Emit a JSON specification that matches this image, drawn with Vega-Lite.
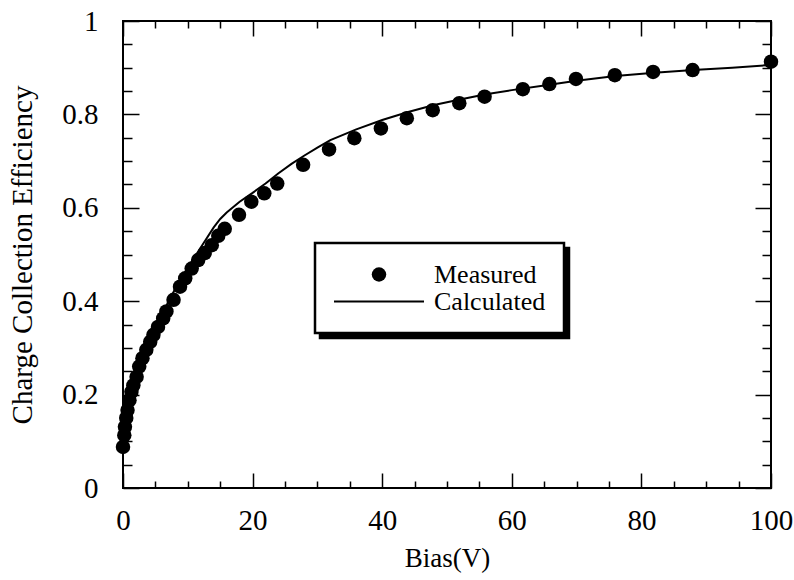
{
  "$schema": "https://vega.github.io/schema/vega-lite/v6.json",
  "width": 648,
  "height": 467,
  "autosize": {"type": "none"},
  "padding": {"left": 123, "top": 21, "right": 23, "bottom": 92},
  "background": "white",
  "config": {
    "view": {"stroke": "black", "strokeWidth": 2},
    "font": "Liberation Serif",
    "legend": {"strokeWidth": 2.5},
    "axis": {
      "grid": false,
      "domain": false,
      "ticks": true,
      "tickColor": "black",
      "tickWidth": 1.5,
      "labelFont": "Liberation Serif",
      "labelFontSize": 29,
      "labelColor": "black",
      "titleFont": "Liberation Serif",
      "titleFontSize": 27,
      "titleFontWeight": "normal",
      "titleColor": "black",
      "labelOverlap": false,
      "labelFlush": false
    }
  },
  "resolve": {"axis": {"x": "independent", "y": "independent"}},
  "datasets": {
    "measured": [
      {"bias": 0.0, "cce": 0.088, "series": "Measured"},
      {"bias": 0.2, "cce": 0.113, "series": "Measured"},
      {"bias": 0.3, "cce": 0.131, "series": "Measured"},
      {"bias": 0.5, "cce": 0.150, "series": "Measured"},
      {"bias": 0.7, "cce": 0.167, "series": "Measured"},
      {"bias": 1.0, "cce": 0.188, "series": "Measured"},
      {"bias": 1.3, "cce": 0.206, "series": "Measured"},
      {"bias": 1.6, "cce": 0.220, "series": "Measured"},
      {"bias": 2.1, "cce": 0.238, "series": "Measured"},
      {"bias": 2.5, "cce": 0.260, "series": "Measured"},
      {"bias": 3.0, "cce": 0.278, "series": "Measured"},
      {"bias": 3.6, "cce": 0.296, "series": "Measured"},
      {"bias": 4.2, "cce": 0.313, "series": "Measured"},
      {"bias": 4.7, "cce": 0.328, "series": "Measured"},
      {"bias": 5.4, "cce": 0.345, "series": "Measured"},
      {"bias": 6.2, "cce": 0.363, "series": "Measured"},
      {"bias": 6.7, "cce": 0.378, "series": "Measured"},
      {"bias": 7.8, "cce": 0.403, "series": "Measured"},
      {"bias": 8.8, "cce": 0.431, "series": "Measured"},
      {"bias": 9.6, "cce": 0.449, "series": "Measured"},
      {"bias": 10.6, "cce": 0.470, "series": "Measured"},
      {"bias": 11.6, "cce": 0.488, "series": "Measured"},
      {"bias": 12.6, "cce": 0.503, "series": "Measured"},
      {"bias": 13.7, "cce": 0.520, "series": "Measured"},
      {"bias": 14.7, "cce": 0.540, "series": "Measured"},
      {"bias": 15.7, "cce": 0.555, "series": "Measured"},
      {"bias": 17.9, "cce": 0.585, "series": "Measured"},
      {"bias": 19.8, "cce": 0.613, "series": "Measured"},
      {"bias": 21.8, "cce": 0.631, "series": "Measured"},
      {"bias": 23.8, "cce": 0.652, "series": "Measured"},
      {"bias": 27.8, "cce": 0.692, "series": "Measured"},
      {"bias": 31.8, "cce": 0.725, "series": "Measured"},
      {"bias": 35.7, "cce": 0.749, "series": "Measured"},
      {"bias": 39.8, "cce": 0.770, "series": "Measured"},
      {"bias": 43.8, "cce": 0.792, "series": "Measured"},
      {"bias": 47.8, "cce": 0.809, "series": "Measured"},
      {"bias": 51.9, "cce": 0.824, "series": "Measured"},
      {"bias": 55.8, "cce": 0.838, "series": "Measured"},
      {"bias": 61.7, "cce": 0.854, "series": "Measured"},
      {"bias": 65.8, "cce": 0.865, "series": "Measured"},
      {"bias": 69.9, "cce": 0.876, "series": "Measured"},
      {"bias": 75.9, "cce": 0.884, "series": "Measured"},
      {"bias": 81.8, "cce": 0.891, "series": "Measured"},
      {"bias": 87.9, "cce": 0.895, "series": "Measured"},
      {"bias": 100.0, "cce": 0.913, "series": "Measured"}
    ],
    "calculated": [
      {"bias": 0, "cce": 0.09, "model": "Calculated"},
      {"bias": 0.5, "cce": 0.15, "model": "Calculated"},
      {"bias": 1, "cce": 0.19, "model": "Calculated"},
      {"bias": 2, "cce": 0.24, "model": "Calculated"},
      {"bias": 3, "cce": 0.28, "model": "Calculated"},
      {"bias": 4, "cce": 0.315, "model": "Calculated"},
      {"bias": 5, "cce": 0.345, "model": "Calculated"},
      {"bias": 6, "cce": 0.372, "model": "Calculated"},
      {"bias": 8, "cce": 0.425, "model": "Calculated"},
      {"bias": 10, "cce": 0.472, "model": "Calculated"},
      {"bias": 12, "cce": 0.515, "model": "Calculated"},
      {"bias": 14, "cce": 0.558, "model": "Calculated"},
      {"bias": 15, "cce": 0.576, "model": "Calculated"},
      {"bias": 16, "cce": 0.59, "model": "Calculated"},
      {"bias": 18, "cce": 0.613, "model": "Calculated"},
      {"bias": 20, "cce": 0.632, "model": "Calculated"},
      {"bias": 22, "cce": 0.652, "model": "Calculated"},
      {"bias": 24, "cce": 0.674, "model": "Calculated"},
      {"bias": 26, "cce": 0.694, "model": "Calculated"},
      {"bias": 28, "cce": 0.712, "model": "Calculated"},
      {"bias": 30, "cce": 0.729, "model": "Calculated"},
      {"bias": 32, "cce": 0.745, "model": "Calculated"},
      {"bias": 36, "cce": 0.768, "model": "Calculated"},
      {"bias": 40, "cce": 0.788, "model": "Calculated"},
      {"bias": 44, "cce": 0.805, "model": "Calculated"},
      {"bias": 48, "cce": 0.82, "model": "Calculated"},
      {"bias": 52, "cce": 0.832, "model": "Calculated"},
      {"bias": 56, "cce": 0.843, "model": "Calculated"},
      {"bias": 60, "cce": 0.852, "model": "Calculated"},
      {"bias": 65, "cce": 0.862, "model": "Calculated"},
      {"bias": 70, "cce": 0.872, "model": "Calculated"},
      {"bias": 76, "cce": 0.882, "model": "Calculated"},
      {"bias": 82, "cce": 0.889, "model": "Calculated"},
      {"bias": 88, "cce": 0.895, "model": "Calculated"},
      {"bias": 94, "cce": 0.9, "model": "Calculated"},
      {"bias": 100, "cce": 0.906, "model": "Calculated"}
    ]
  },
  "layer": [
    {
      "data": {"name": "calculated"},
      "mark": {"type": "line", "color": "black", "strokeWidth": 2, "clip": false},
      "encoding": {
        "x": {
          "field": "bias", "type": "quantitative",
          "scale": {"domain": [0, 100], "nice": false, "zero": false},
          "axis": {
            "orient": "bottom",
            "title": "Bias(V)",
            "titlePadding": 10,
            "values": [0, 20, 40, 60, 80, 100],
            "tickSize": -15,
            "labelPadding": 33
          }
        },
        "y": {
          "field": "cce", "type": "quantitative",
          "scale": {"domain": [0, 1], "nice": false},
          "axis": {
            "orient": "left",
            "title": "Charge Collection Efficiency",
            "titleFontSize": 29,
            "titlePadding": 24,
            "values": [0, 0.2, 0.4, 0.6, 0.8, 1],
            "labelExpr": "'' + round(datum.value*10)/10",
            "tickSize": -16,
            "labelPadding": 41
          }
        },
        "opacity": {
          "field": "model", "type": "nominal",
          "scale": {"domain": ["Calculated", "Measured"], "range": [1, 1]},
          "legend": {
            "title": null,
            "orient": "none",
            "legendX": 197,
            "legendY": 227,
            "padding": 18,
            "rowPadding": 0,
            "clipHeight": 27,
            "symbolType": "stroke",
            "symbolSize": 8100,
            "symbolStrokeWidth": 2,
            "symbolOpacity": 0,
            "labelFont": "Liberation Serif",
            "labelFontSize": 26,
            "labelColor": "transparent",
            "labelOffset": 9,
            "strokeColor": "black",
            "fillColor": "black",
            "cornerRadius": 0
          }
        }
      }
    },
    {
      "data": {"name": "measured"},
      "mark": {"type": "point", "filled": true, "color": "black", "opacity": 1, "clip": false},
      "encoding": {
        "x": {
          "field": "bias", "type": "quantitative",
          "axis": {
            "orient": "top",
            "title": null,
            "labels": false,
            "values": [0, 20, 40, 60, 80, 100],
            "tickSize": -15
          }
        },
        "y": {
          "field": "cce", "type": "quantitative",
          "axis": {
            "orient": "right",
            "title": null,
            "labels": false,
            "values": [0, 0.2, 0.4, 0.6, 0.8, 1],
            "tickSize": -16
          }
        },
        "shape": {
          "field": "series", "type": "nominal",
          "scale": {"domain": ["Measured", "Calculated"], "range": ["circle", "M-1,-0.024L1,-0.024L1,0.024L-1,0.024Z"]},
          "legend": {
            "title": null,
            "orient": "none",
            "legendX": 192,
            "legendY": 222,
            "padding": 18,
            "rowPadding": 0,
            "clipHeight": 27,
            "symbolStrokeWidth": 2,
            "labelFont": "Liberation Serif",
            "labelFontSize": 26,
            "labelColor": "black",
            "labelOffset": 9,
            "strokeColor": "black",
            "fillColor": "white",
            "cornerRadius": 0,
            "encode": {
              "symbols": {
                "fill": {"value": "black"},
                "opacity": {"value": 1}
              }
            }
          }
        },
        "size": {
          "field": "series", "type": "nominal",
          "scale": {"domain": ["Measured", "Calculated"], "range": [210, 8100]},
          "legend": {
            "title": null,
            "orient": "none",
            "legendX": 192,
            "legendY": 222,
            "padding": 18,
            "rowPadding": 0,
            "clipHeight": 27,
            "symbolStrokeWidth": 2,
            "labelFont": "Liberation Serif",
            "labelFontSize": 26,
            "labelColor": "black",
            "labelOffset": 9,
            "strokeColor": "black",
            "fillColor": "white",
            "cornerRadius": 0,
            "encode": {
              "symbols": {
                "fill": {"value": "black"},
                "opacity": {"value": 1}
              }
            }
          }
        }
      }
    },
    {
      "data": {"name": "measured"},
      "mark": {"type": "point", "opacity": 0, "size": 1},
      "encoding": {
        "x": {
          "field": "bias", "type": "quantitative",
          "axis": {
            "orient": "bottom",
            "title": null,
            "labels": false,
            "values": [5, 10, 15, 25, 30, 35, 45, 50, 55, 65, 70, 75, 85, 90, 95],
            "tickSize": -7
          }
        },
        "y": {
          "field": "cce", "type": "quantitative",
          "axis": {
            "orient": "left",
            "title": null,
            "labels": false,
            "values": [0.05, 0.1, 0.15, 0.25, 0.3, 0.35, 0.45, 0.5, 0.55, 0.65, 0.7, 0.75, 0.85, 0.9, 0.95],
            "tickSize": -9
          }
        }
      }
    },
    {
      "data": {"name": "measured"},
      "mark": {"type": "point", "opacity": 0, "size": 1},
      "encoding": {
        "x": {
          "field": "bias", "type": "quantitative",
          "axis": {
            "orient": "top",
            "title": null,
            "labels": false,
            "values": [5, 10, 15, 25, 30, 35, 45, 50, 55, 65, 70, 75, 85, 90, 95],
            "tickSize": -7
          }
        },
        "y": {
          "field": "cce", "type": "quantitative",
          "axis": {
            "orient": "right",
            "title": null,
            "labels": false,
            "values": [0.05, 0.1, 0.15, 0.25, 0.3, 0.35, 0.45, 0.5, 0.55, 0.65, 0.7, 0.75, 0.85, 0.9, 0.95],
            "tickSize": -9
          }
        }
      }
    }
  ]
}
